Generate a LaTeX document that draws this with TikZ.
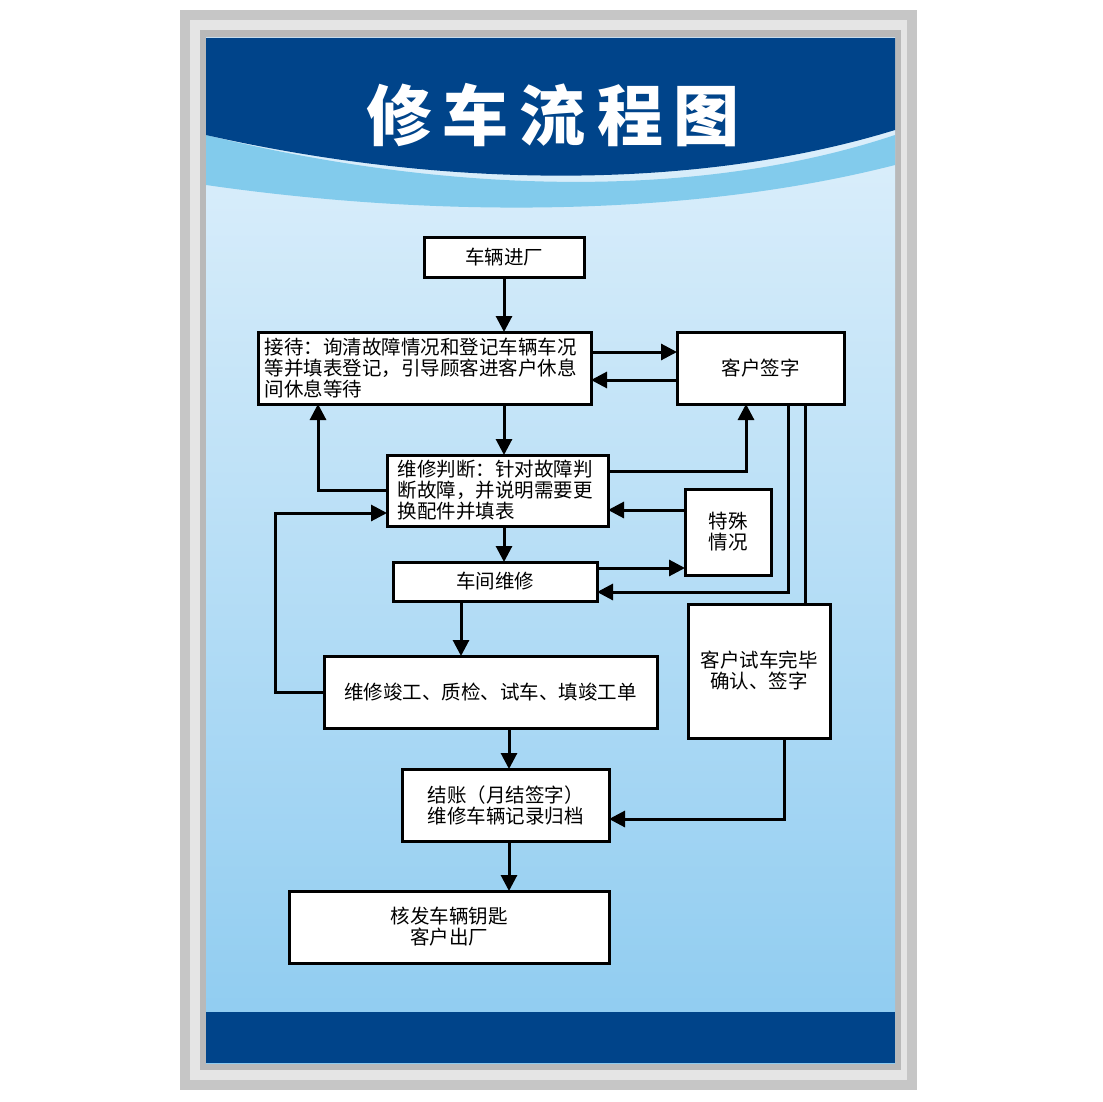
\documentclass[tikz,border=0pt]{standalone}
\usepackage{fontspec}
\setmainfont{Noto Sans CJK SC}
\usetikzlibrary{arrows.meta}
\definecolor{navy}{HTML}{00448A}
\definecolor{cyanb}{HTML}{2FA8E0}
\definecolor{bgtop}{HTML}{E3F2FC}
\definecolor{bgbot}{HTML}{8DCBF0}
\begin{document}
\begin{tikzpicture}[x=1pt,y=-1pt,
  bx/.style={draw=black,line width=3pt,fill=white,inner sep=0pt,font=\fontsize{19.5}{21}\selectfont,align=left},
  ln/.style={line width=3pt,line cap=rect},
  ar/.style={line width=3pt,-{Triangle[length=16pt,width=16pt]}}]
\useasboundingbox (0,0) rectangle (1102,1102);
\fill[white] (0,0) rectangle (1102,1102);
\fill[gray!45] (180,10) rectangle (917,1090);
\fill[gray!20] (190,20) rectangle (907,1080);
\fill[gray!55] (200,30) rectangle (901,1070);
\shade[top color=bgtop,bottom color=bgbot] (206,38) rectangle (895,1063);
\fill[cyanb!60] (206,135) .. controls (450,195) and (700,200) .. (895,135) -- (895,165) .. controls (700,215) and (450,220) .. (206,185) -- cycle;
\fill[navy] (206,38) -- (895,38) -- (895,130) .. controls (700,190) and (450,190) .. (206,135) -- cycle;
\fill[navy] (206,1012) rectangle (895,1063);
\node[white,font=\fontsize{66}{66}\selectfont\bfseries] (title) at (553,115) {修\,车\,流\,程\,图};
% boxes
\node[bx,minimum width=160pt,minimum height=40pt,align=center] (a) at (504,257) {车辆进厂};
\node[bx,minimum width=333pt,minimum height=72pt,text width=320pt] (b) at (424.5,368) {接待：询清故障情况和登记车辆车况\\等并填表登记，引导顾客进客户休息\\间休息等待};
\node[bx,minimum width=167pt,minimum height=72pt,align=center] (c) at (760.5,368) {客户签字};
\node[bx,minimum width=221pt,minimum height=71pt,text width=200pt] (d) at (497.5,490.5) {维修判断：针对故障判\\断故障，并说明需要更\\换配件并填表};
\node[bx,minimum width=86pt,minimum height=86pt,align=center] (e) at (728,532) {特殊\\情况};
\node[bx,minimum width=204pt,minimum height=39pt,align=center] (f) at (495,581.5) {车间维修};
\node[bx,minimum width=333pt,minimum height=72pt,align=center] (g) at (490.5,692) {维修竣工、质检、试车、填竣工单};
\node[bx,minimum width=142pt,minimum height=134pt,align=center] (h) at (759,671) {客户试车完毕\\确认、签字};
\node[bx,minimum width=207pt,minimum height=72pt,align=center] (i) at (505.5,805) {结账（月结签字）\\维修车辆记录归档};
\node[bx,minimum width=320pt,minimum height=72pt,align=center] (j) at (449,927) {核发车辆钥匙\\客户出厂};
% connectors
\draw[ar] (a.south -| 504,0) -- (504,332);
\draw[ar] (591,352) -- (677,352);
\draw[ar] (677,380) -- (591,380);
\draw[ar] (504,404) -- (504,455);
\draw[ar] (387,490) -- (318,490) -- (318,404);
\draw[ar] (608,471) -- (746,471) -- (746,404);
\draw[ar] (685,510) -- (608,510);
\draw[ar] (504,526) -- (504,562);
\draw[ar] (597,568) -- (685,568);
\draw[ar] (788,404) -- (788,592) -- (597,592);
\draw[ln] (805,404) -- (805,604);
\draw[ar] (461,601) -- (461,656);
\draw[ar] (324,692) -- (275,692) -- (275,513) -- (387,513);
\draw[ar] (509,728) -- (509,769);
\draw[ar] (784,738) -- (784,819) -- (609,819);
\draw[ar] (509,841) -- (509,891);
\end{tikzpicture}
\end{document}
